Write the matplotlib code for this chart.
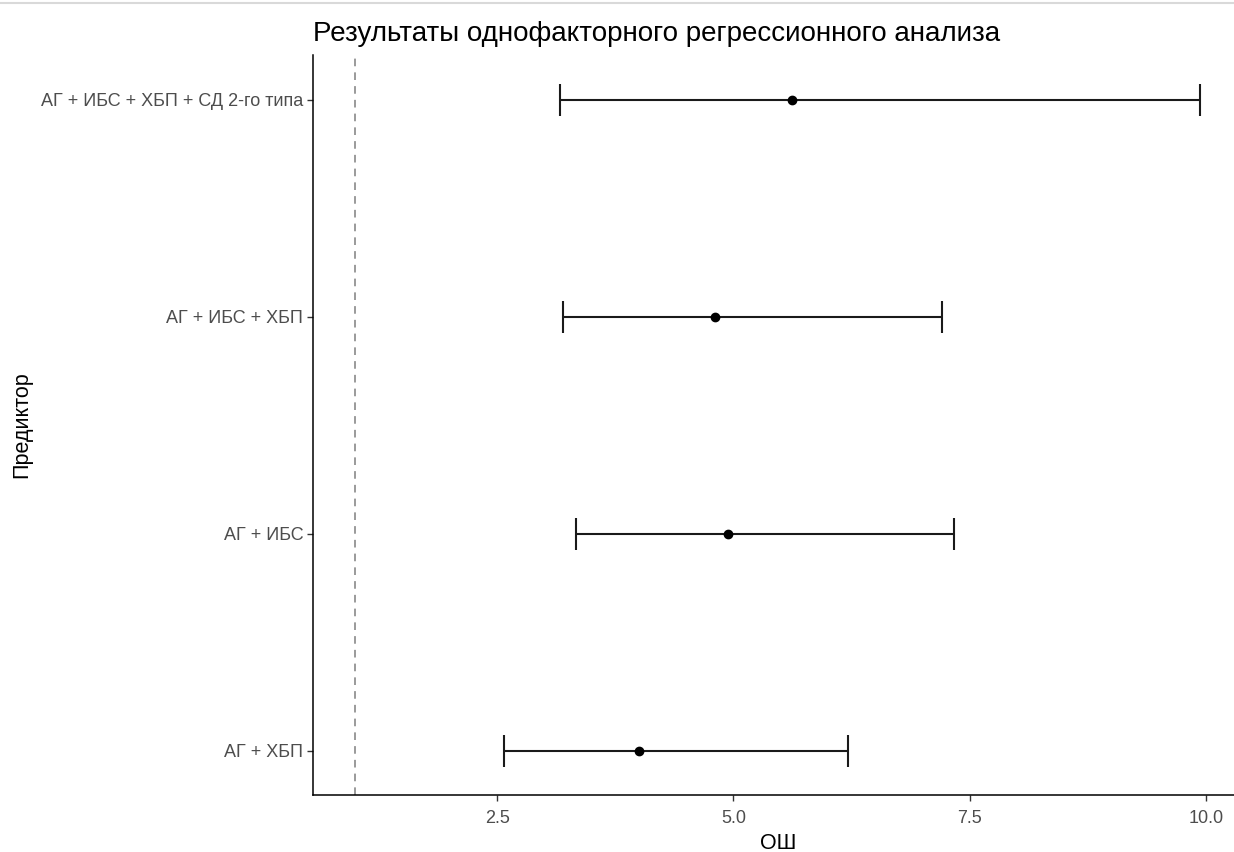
import numpy as np
import matplotlib.pyplot as plt
from matplotlib.lines import Line2D

plt.rcParams['font.family'] = ['Liberation Sans', 'DejaVu Sans']

# Odds ratios with 95% CI per predictor (bottom to top)
predictors = ["АГ + ХБП", "АГ + ИБС", "АГ + ИБС + ХБП", "АГ + ИБС + ХБП + СД 2-го типа"]
odds_ratio = [4.00, 4.94, 4.80, 5.62]
ci_low = [2.57, 3.34, 3.20, 3.17]
ci_high = [6.21, 7.33, 7.21, 9.94]
x_ticks = [2.5, 5.0, 7.5, 10.0]
ref_line = 1.0

W, H = 1234, 852
fig = plt.figure(figsize=(W / 100, H / 100), dpi=100)
ax = fig.add_axes([313 / W, 1 - 795 / H, (1243 - 313) / W, (795 - 55) / H])

ypos = np.arange(1, len(predictors) + 1)
err = [np.array(odds_ratio) - np.array(ci_low), np.array(ci_high) - np.array(odds_ratio)]

ax.axvline(ref_line, color="#7f7f7f", linestyle=(0, (5, 4)), linewidth=1.1, zorder=1)
ax.errorbar(odds_ratio, ypos, xerr=err, fmt="o", color="black", ecolor="#1a1a1a",
            elinewidth=1.5, capsize=11.5, capthick=1.5, markersize=6, zorder=3)

ax.set_xlim(0.553, 10.39)
ax.set_ylim(0.797, 4.207)
ax.set_xticks(x_ticks)
ax.set_xticklabels([f"{t:.1f}" for t in x_ticks])
ax.set_yticks(ypos)
ax.set_yticklabels(predictors)

for s in ["top", "right"]:
    ax.spines[s].set_visible(False)
for s in ["left", "bottom"]:
    ax.spines[s].set_linewidth(1.1)
    ax.spines[s].set_color("black")

ax.tick_params(axis="both", colors="#333333", labelcolor="#4d4d4d", labelsize=13,
               length=4, width=1.0, pad=3)
ax.tick_params(axis="x", pad=7)

ax.set_xlabel("ОШ", fontsize=15.5, color="black", labelpad=4)
ax.set_ylabel("Предиктор", fontsize=15.5, color="black", labelpad=6)
ax.set_title("Результаты однофакторного регрессионного анализа", fontsize=20,
             loc="left", x=0, pad=10, color="black")

# thin rule across the top edge
fig.add_artist(Line2D([0, 1], [1 - 3 / H, 1 - 3 / H], color="#d9d9d9", linewidth=1.5))

fig.savefig("out.png", dpi=100)
